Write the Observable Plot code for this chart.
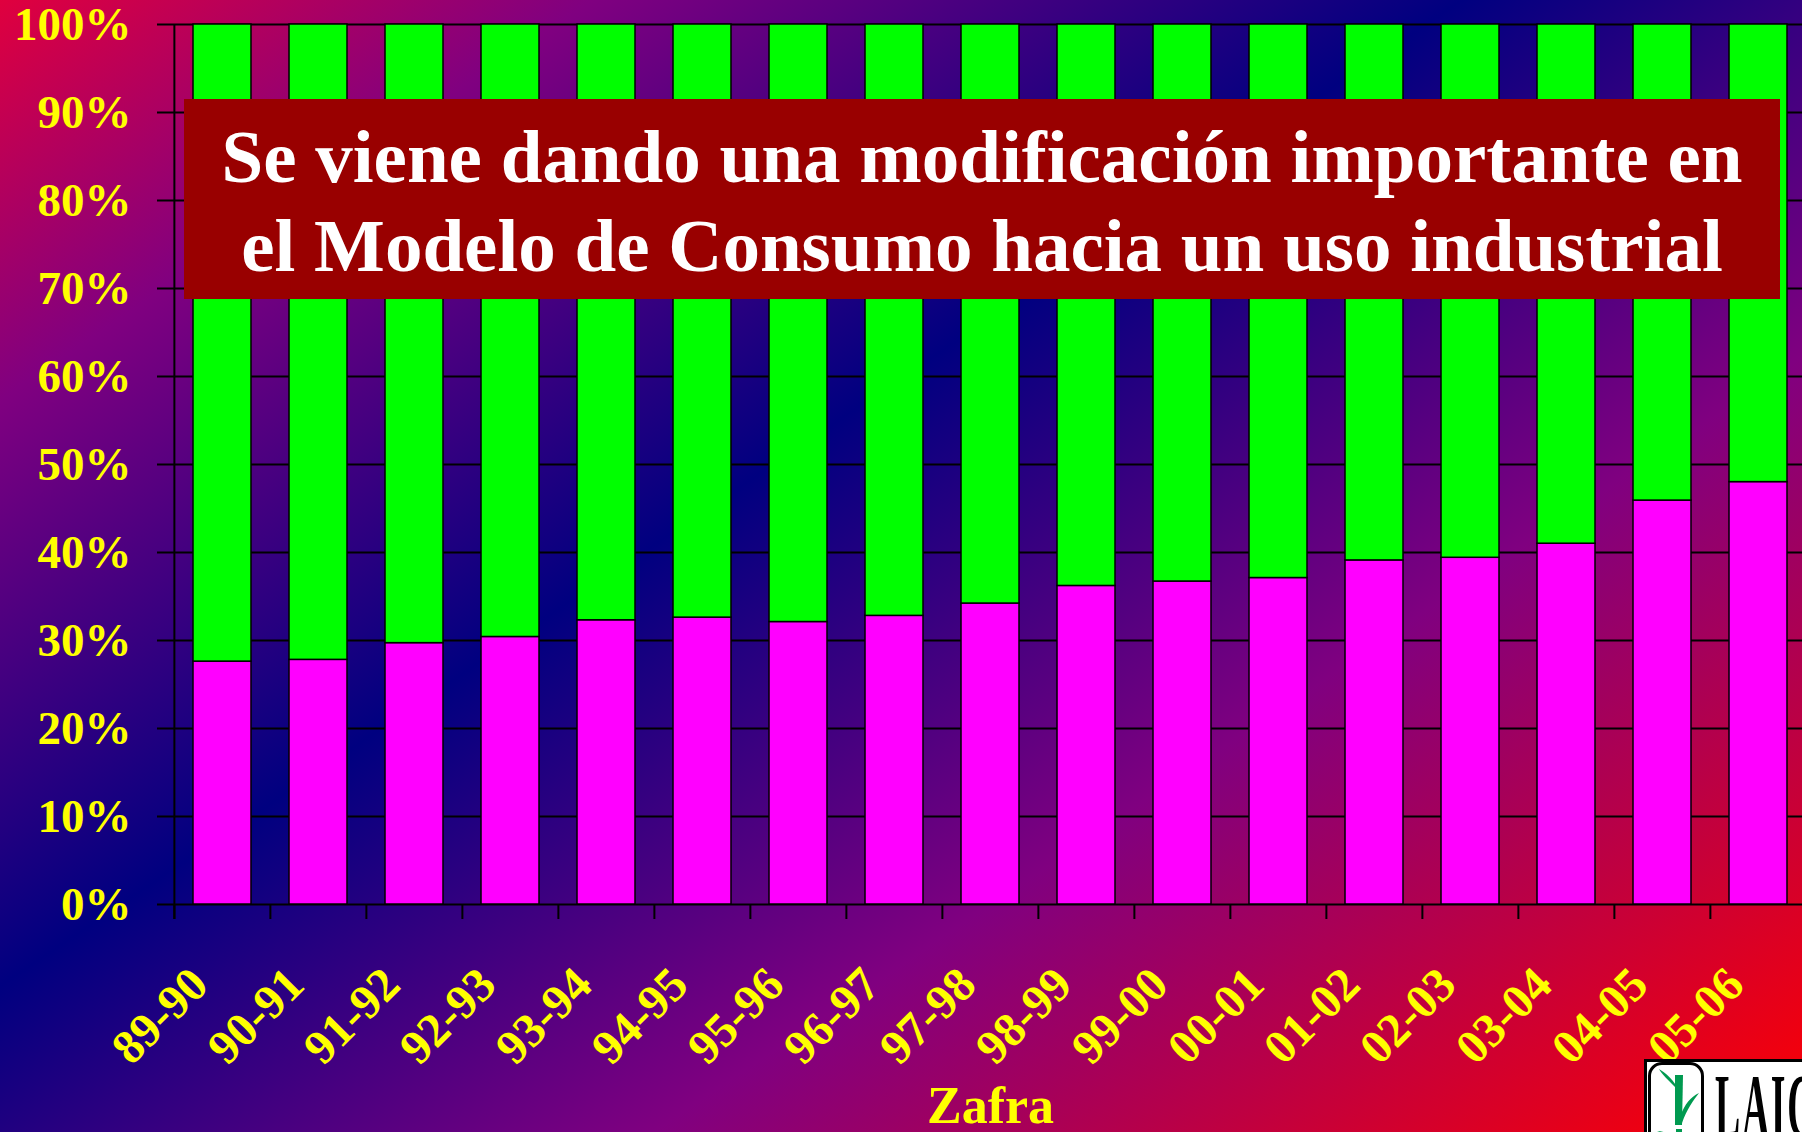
<!DOCTYPE html>
<html>
<head>
<meta charset="utf-8">
<script src="https://cdn.jsdelivr.net/npm/d3@7"></script>
<script src="https://cdn.jsdelivr.net/npm/@observablehq/plot@0.6"></script>
<style>
  html, body { margin: 0; padding: 0; width: 1802px; height: 1132px; overflow: hidden; }
  body {
    position: relative;
    background: linear-gradient(146deg, #e0003e 0%, #800080 17%, #000080 42%, #800080 67%, #ff0000 100%);
    font-family: "Liberation Serif", "Times New Roman", serif;
  }
  #chart { position: absolute; left: 0; top: 0; }
  #title {
    position: absolute; left: 184px; top: 99px; width: 1596px; height: 200px;
    box-sizing: border-box; padding-top: 13px;
    background: #990000; color: #ffffff;
    font-weight: bold; font-size: 75px; line-height: 89px; text-align: center;
    white-space: nowrap;
  }
  #logo {
    position: absolute; left: 1644px; top: 1059px; width: 200px; height: 110px;
    box-sizing: border-box; background: #ffffff; border: 3px solid #000000; overflow: hidden;
  }
  #icon {
    position: absolute; left: 1px; top: 0px; width: 56px; height: 110px;
    box-sizing: border-box; border: 3px solid #000000; border-radius: 14px; background: #ffffff;
  }
  #logotext {
    position: absolute; left: 68px; top: 0px; font-size: 90px; line-height: 90px;
    font-weight: bold; color: #000000; transform: scaleX(0.42); transform-origin: left top;
    letter-spacing: 4px;
  }
</style>
</head>
<body>
<div id="chart"></div>
<div id="title">Se viene dando una modificación importante en<br>el Modelo de Consumo hacia un uso industrial</div>
<div id="logo">
  <div id="icon">
    <svg width="50" height="104" viewBox="0 0 50 104">
      <path d="M24 10 L32 10 L31 60 L24 60 Z" fill="#009a50"/>
      <path d="M25 64 L31 64 L31 104 L25 104 Z" fill="#009a50"/>
      <path d="M24 22 C14 12 10 8 8 4 C14 8 20 12 26 22 Z" fill="#009a50"/>
      <path d="M29 52 C34 38 40 32 48 28 C42 36 36 44 31 58 Z" fill="#009a50"/>
      <path d="M25 80 C18 72 12 68 6 66 C14 66 20 70 27 78 Z" fill="#009a50"/>
    </svg>
  </div>
  <div id="logotext">LAICA</div>
</div>
<script>
// Data
const zafras = ["89-90", "90-91", "91-92", "92-93", "93-94", "94-95", "95-96", "96-97", "97-98",
                "98-99", "99-00", "00-01", "01-02", "02-03", "03-04", "04-05", "05-06"];
const usoIndustrial = [27.6, 27.8, 29.7, 30.4, 32.3, 32.6, 32.1, 32.8, 34.2,
                       36.2, 36.7, 37.1, 39.1, 39.4, 41.0, 45.9, 48.0];
const consumoDirecto = [72.4, 72.2, 70.3, 69.6, 67.7, 67.4, 67.9, 67.2, 65.8,
                        63.8, 63.3, 62.9, 60.9, 60.6, 59.0, 54.1, 52.0];
const yTicks = [0, 10, 20, 30, 40, 50, 60, 70, 80, 90, 100];
const seriesNames = ["Uso industrial", "Consumo directo"];
const seriesColors = ["#ff00ff", "#00ff00"];
const xTitle = "Zafra";

const rows = [
  ...zafras.map((z, i) => ({zafra: z, serie: seriesNames[0], value: usoIndustrial[i]})),
  ...zafras.map((z, i) => ({zafra: z, serie: seriesNames[1], value: consumoDirecto[i]}))
];

const W = 1802, H = 1132, mL = 172, mR = -6, mT = 24, mB = 228;
const step = (W - mR - mL) / zafras.length;
const font = "Liberation Serif, Times New Roman, serif";

const chart = Plot.plot({
  width: W, height: H,
  marginLeft: mL, marginRight: mR, marginTop: mT, marginBottom: mB,
  style: {background: "transparent", overflow: "visible", fontFamily: font, color: "black"},
  x: {domain: zafras, padding: 0},
  y: {domain: [0, 100]},
  color: {domain: seriesNames, range: seriesColors},
  marks: [
    Plot.ruleY(yTicks, {stroke: "black", strokeWidth: 2, insetLeft: -15}),
    Plot.barY(rows, {x: "zafra", y: "value", fill: "serie", stroke: "black", strokeWidth: 1.5,
                     insetLeft: 19, insetRight: 19}),
    Plot.ruleX(zafras, {x: d => d, dx: -step / 2, y1: 0, y2: 0, insetBottom: -15, stroke: "black", strokeWidth: 2}),
    Plot.ruleX([zafras[0]], {x: d => d, dx: -step / 2, y1: 100, y2: 0, insetBottom: -15, stroke: "black", strokeWidth: 2}),
    Plot.axisY({ticks: yTicks, tickSize: 0, tickPadding: 41, tickFormat: d => d + "%",
                fill: "#ffff00", fontSize: 47, fontWeight: "bold", label: null}),
    Plot.axisX({tickSize: 0, tickPadding: 72, tickRotate: -45, dx: -23,
                fill: "#ffff00", fontSize: 48, fontWeight: "bold", label: null}),
    Plot.text([xTitle], {text: d => d, frameAnchor: "bottom", dy: 218,
                fill: "#ffff00", fontSize: 52, fontWeight: "bold"})
  ]
});
document.getElementById("chart").appendChild(chart);
</script>
</body>
</html>
